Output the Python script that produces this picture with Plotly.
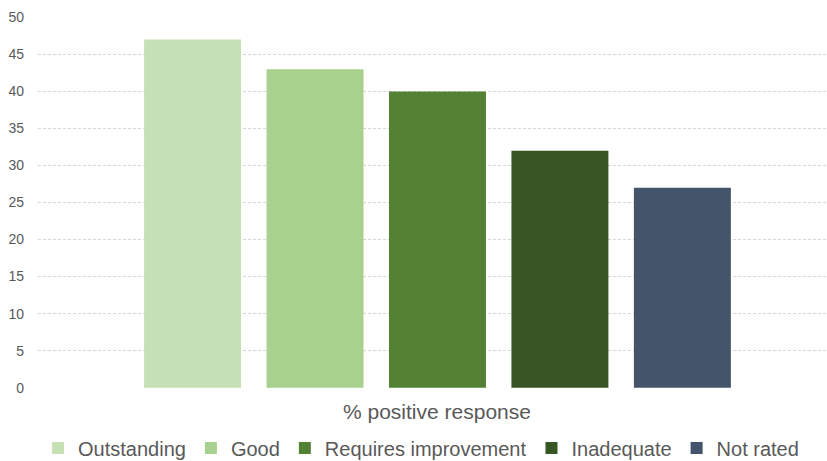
import plotly.graph_objects as go

# Share of positive responses by inspection rating
category = ["% positive response"]
ratings = ["Outstanding", "Good", "Requires improvement", "Inadequate", "Not rated"]
values = [47, 43, 40, 32, 27]
colors = ["#C5E0B4", "#A9D18E", "#548235", "#375623", "#44546A"]

y_ticks = list(range(0, 51, 5))

fig = go.Figure()
for name, val, col in zip(ratings, values, colors):
    fig.add_trace(go.Bar(
        x=[0], y=[val], name=name,
        marker=dict(color=col, line=dict(width=0)),
    ))

fig.update_layout(
    width=827, height=461,
    margin=dict(l=38, r=0, t=17, b=73, autoexpand=False),
    paper_bgcolor="white", plot_bgcolor="white",
    barmode="group", bargap=0.224, bargroupgap=0.208,
    font=dict(family="Liberation Sans, Arial, sans-serif", color="#595959"),
    showlegend=True,
    legend=dict(
        orientation="h", x=0.4855, xanchor="center",
        yref="container", y=1 - 448 / 461, yanchor="middle",
        font=dict(size=20, color="#595959"), itemwidth=30, tracegroupgap=0,
        traceorder="normal",
    ),
    xaxis=dict(
        range=[-0.5063, 0.4937], showticklabels=False, showgrid=False,
        zeroline=False, showline=False, ticks="",
    ),
    yaxis=dict(
        range=[-0.04, 50.04], tickvals=y_ticks, ticktext=[str(t) for t in y_ticks],
        showgrid=True, gridcolor="#D6D6D6", griddash="3px,2px", gridwidth=1,
        zeroline=False, showline=False, ticks="", ticklabelstandoff=13,
        tickfont=dict(size=14, color="#595959"),
    ),
    annotations=[dict(
        text=category[0], xref="x", yref="paper", x=0, y=-23 / 371,
        xanchor="center", yanchor="middle", showarrow=False,
        font=dict(size=21, color="#595959"),
    )],
)

fig.write_html("out.html")
